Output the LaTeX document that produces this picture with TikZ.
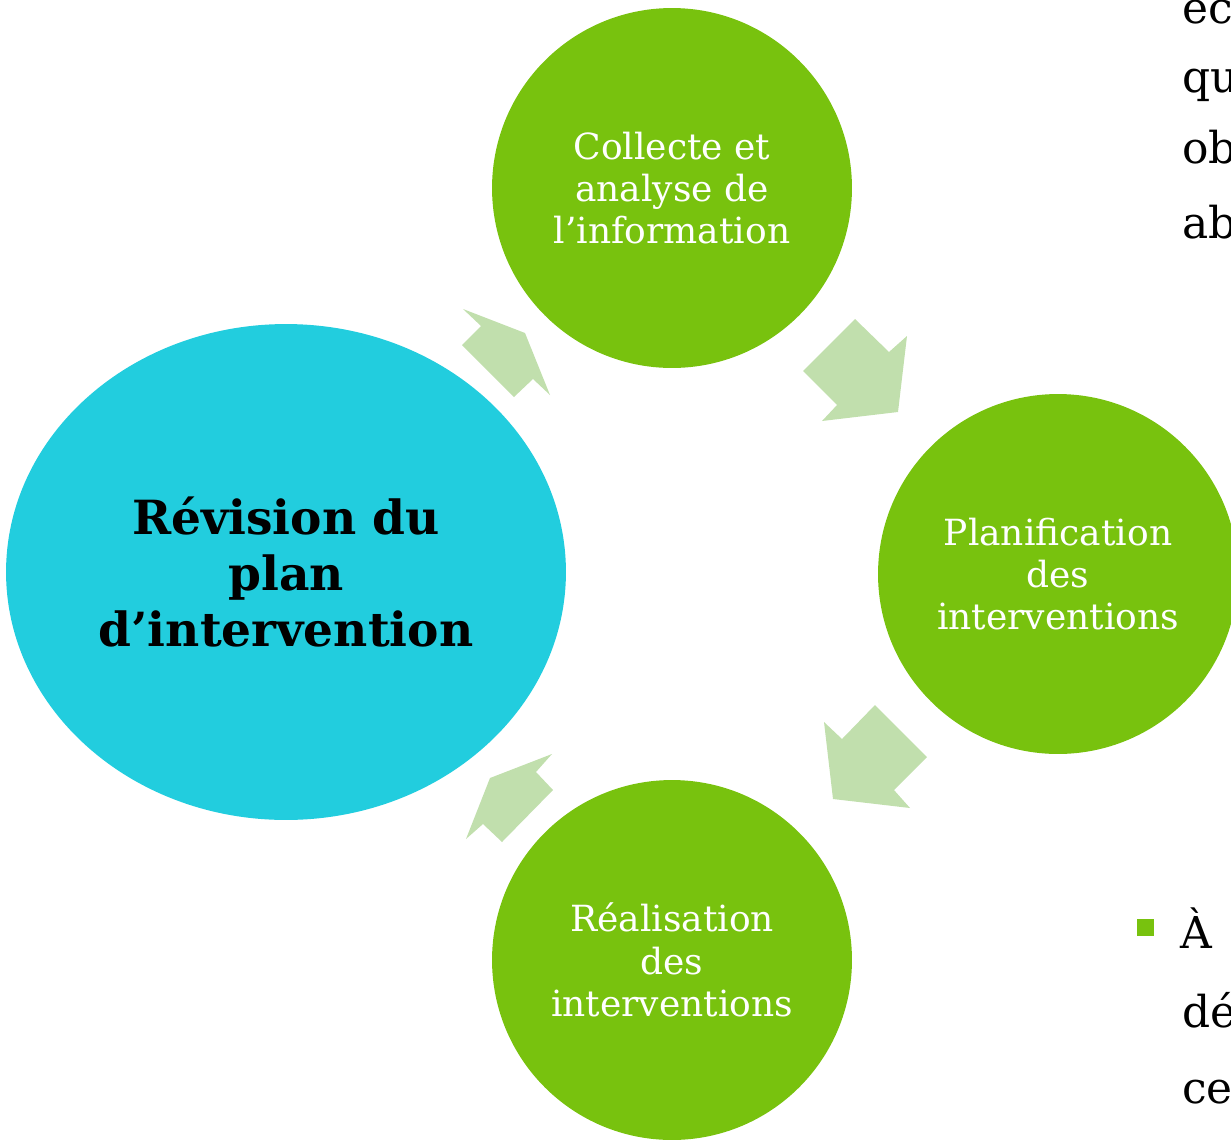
\documentclass[tikz,border=0pt]{standalone}
\usepackage{fontspec}
\setmainfont{DejaVu Serif}
\usetikzlibrary{shapes.geometric}

\definecolor{phasegreen}{HTML}{78C20E}
\definecolor{revcyan}{HTML}{22CDDE}
\definecolor{arrowgreen}{HTML}{C1DFAD}

\begin{document}
\begin{tikzpicture}[
    x = 0.02cm, y = -0.02cm,
    phase/.style = {circle, fill = phasegreen, minimum size = 7.2cm, inner sep = 0pt,
        text = white, align = center, font = \fontsize{20.5}{24}\selectfont},
    revision/.style = {ellipse, fill = revcyan, minimum width = 11.2cm,
        minimum height = 9.92cm, align = center,
        font = \bfseries\fontsize{26.8}{32}\selectfont},
    blockarrow/.style = {fill = arrowgreen},
    sidetext/.style = {anchor = base west, inner sep = 0pt,
        font = \fontsize{25}{30}\selectfont},
    bullet/.style = {fill = phasegreen, minimum size = 0.34cm, inner sep = 0pt}]

\useasboundingbox (0,0) rectangle (1231,1140);
\clip (0,0) rectangle (1231,1140);

% cycle
\node[revision] (rev) at (286,572) {Révision du\\plan\\d’intervention};
\node[phase] (collect) at (672,188) {Collecte et\\analyse de\\l’information};
\node[phase] (plan) at (1058,574) {Planification\\des\\interventions};
\node[phase] (real) at (672,960) {Réalisation\\des\\interventions};

% block arrows
\fill[blockarrow] (463,309) -- (525,333) -- (550,395) -- (533,379) --
    (514,397) -- (462,345) -- (481,326) -- cycle;
\fill[blockarrow] (855,319) -- (889,352) -- (907,336) -- (898,412) --
    (822,421) -- (837,405) -- (803,371) -- cycle;
\fill[blockarrow] (875,705) -- (927,757) -- (894,790) -- (910,808) --
    (833,799) -- (824,722) -- (842,739) -- cycle;
\fill[blockarrow] (552,754) -- (536,772) -- (553,790) -- (502,842) --
    (483,824) -- (466,839) -- (490,778) -- cycle;

% text cut at the right edge
\node[sidetext] (ec) at (1182,23) {ec};
\node[sidetext] (qu) at (1182,92) {qu};
\node[sidetext] (ob) at (1182,163) {ob};
\node[sidetext] (ab) at (1182,238) {ab};
\node[bullet] (dot) at (1145.5,927.5) {};
\node[sidetext] (agrave) at (1180,948) {À};
\node[sidetext] (de) at (1182,1027) {dé};
\node[sidetext] (ce) at (1182,1103) {ce};
\end{tikzpicture}
\end{document}
